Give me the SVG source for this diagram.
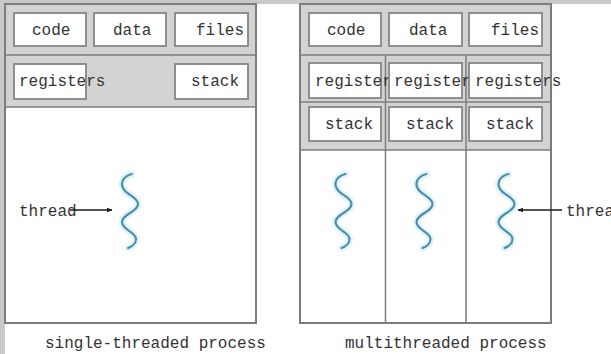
<svg xmlns="http://www.w3.org/2000/svg" width="611" height="354" viewBox="0 0 611 354">
<style>
.frame{fill:none;stroke:#7c7c7c;stroke-width:2}
.band{fill:#d3d3d3}
.div{stroke:#7c7c7c;stroke-width:1.5;fill:none}
.box{fill:#ffffff;stroke:#858585;stroke-width:1.8}
.t{font-family:"Liberation Mono","Courier New",monospace;font-size:16px;fill:#333333}
.glow{fill:none;stroke:#dff5fb;stroke-width:7;stroke-linecap:round}
.wave{fill:none;stroke:#4f8ea6;stroke-width:2.2;stroke-linecap:round}
.arr{stroke:#1a1a1a;stroke-width:1.5;fill:none}
</style>
<defs>
<marker id="ah" viewBox="0 0 10 10" refX="9" refY="5" markerWidth="6" markerHeight="6" orient="auto" markerUnits="userSpaceOnUse">
<path d="M0,1 L10,5 L0,9 z" fill="#1a1a1a"/>
</marker>
<g id="thread">
<path class="glow" d="M132,174 C124,176 120,182 123,188 C126,195 138,197 138,204 C138,212 122,214 122,222 C122,230 136,232 136,239 C136,244 131,247 128,248"/>
<path class="wave" d="M132,174 C124,176 120,182 123,188 C126,195 138,197 138,204 C138,212 122,214 122,222 C122,230 136,232 136,239 C136,244 131,247 128,248"/>
</g>
</defs>
<rect x="0" y="0" width="611" height="354" fill="#ffffff"/>
<rect x="0" y="0" width="611" height="4" fill="#c9c9c9"/>
<rect x="0" y="0" width="5" height="354" fill="#c9c9c9"/>

<g id="single-process">
<rect class="band" x="5" y="4" width="251" height="103"/>
<rect x="5" y="107" width="251" height="216" fill="#ffffff"/>
<line class="div" x1="5" y1="55" x2="256" y2="55"/>
<line class="div" x1="5" y1="107" x2="256" y2="107"/>
<rect class="frame" x="5" y="4" width="251" height="319"/>
</g>
<g id="s-code"><rect class="box" x="14" y="13" width="72" height="33"/><text class="t" x="32" y="35">code</text></g>
<g id="s-data"><rect class="box" x="94" y="13" width="72" height="33"/><text class="t" x="113" y="35">data</text></g>
<g id="s-files"><rect class="box" x="175" y="13" width="73" height="33"/><text class="t" x="196" y="35">files</text></g>
<g id="s-registers"><rect class="box" x="14" y="64" width="72" height="35"/><text class="t" x="19" y="86">registers</text></g>
<g id="s-stack"><rect class="box" x="175" y="64" width="73" height="35"/><text class="t" x="191" y="86">stack</text></g>
<g id="s-thread"><use href="#thread"/><text class="t" x="19" y="216">thread</text></g>

<g id="multi-process">
<rect class="band" x="300" y="4" width="251" height="146"/>
<rect x="300" y="150" width="251" height="173" fill="#ffffff"/>
<line class="div" x1="300" y1="55" x2="551" y2="55"/>
<line class="div" x1="300" y1="102" x2="551" y2="102"/>
<line class="div" x1="300" y1="150" x2="551" y2="150"/>
<line class="div" x1="385.5" y1="55" x2="385.5" y2="323"/>
<line class="div" x1="466" y1="55" x2="466" y2="323"/>
<rect class="frame" x="300" y="4" width="251" height="319"/>
</g>
<g id="m-code"><rect class="box" x="309" y="13" width="72" height="33"/><text class="t" x="327" y="35">code</text></g>
<g id="m-data"><rect class="box" x="389" y="13" width="73" height="33"/><text class="t" x="409" y="35">data</text></g>
<g id="m-files"><rect class="box" x="469" y="13" width="73" height="33"/><text class="t" x="491" y="35">files</text></g>
<g id="m-registers-1"><rect class="box" x="309" y="63" width="72" height="35"/><text class="t" x="315" y="86">registers</text></g>
<g id="m-registers-2"><rect class="box" x="389" y="63" width="73" height="35"/><text class="t" x="394" y="86">registers</text></g>
<g id="m-registers-3"><rect class="box" x="469" y="63" width="73" height="35"/><text class="t" x="475" y="86">registers</text></g>
<g id="m-stack-1"><rect class="box" x="309" y="107" width="72" height="34"/><text class="t" x="325" y="129">stack</text></g>
<g id="m-stack-2"><rect class="box" x="389" y="107" width="73" height="34"/><text class="t" x="406" y="129">stack</text></g>
<g id="m-stack-3"><rect class="box" x="469" y="107" width="73" height="34"/><text class="t" x="486" y="129">stack</text></g>
<g id="m-thread-1"><use href="#thread" transform="translate(213.5,0)"/></g>
<g id="m-thread-2"><use href="#thread" transform="translate(294.5,0)"/></g>
<g id="m-thread-3"><use href="#thread" transform="translate(376.5,0)"/></g>
<g id="m-thread-label"><text class="t" x="566" y="216">thread</text></g>

<g id="connectors">
<line class="arr" x1="70" y1="210" x2="112" y2="210" marker-end="url(#ah)"/>
<line class="arr" x1="562" y1="210" x2="518" y2="210" marker-end="url(#ah)"/>
</g>

<text class="t" x="45" y="348">single-threaded process</text>
<text class="t" x="345" y="348">multithreaded process</text>
</svg>
